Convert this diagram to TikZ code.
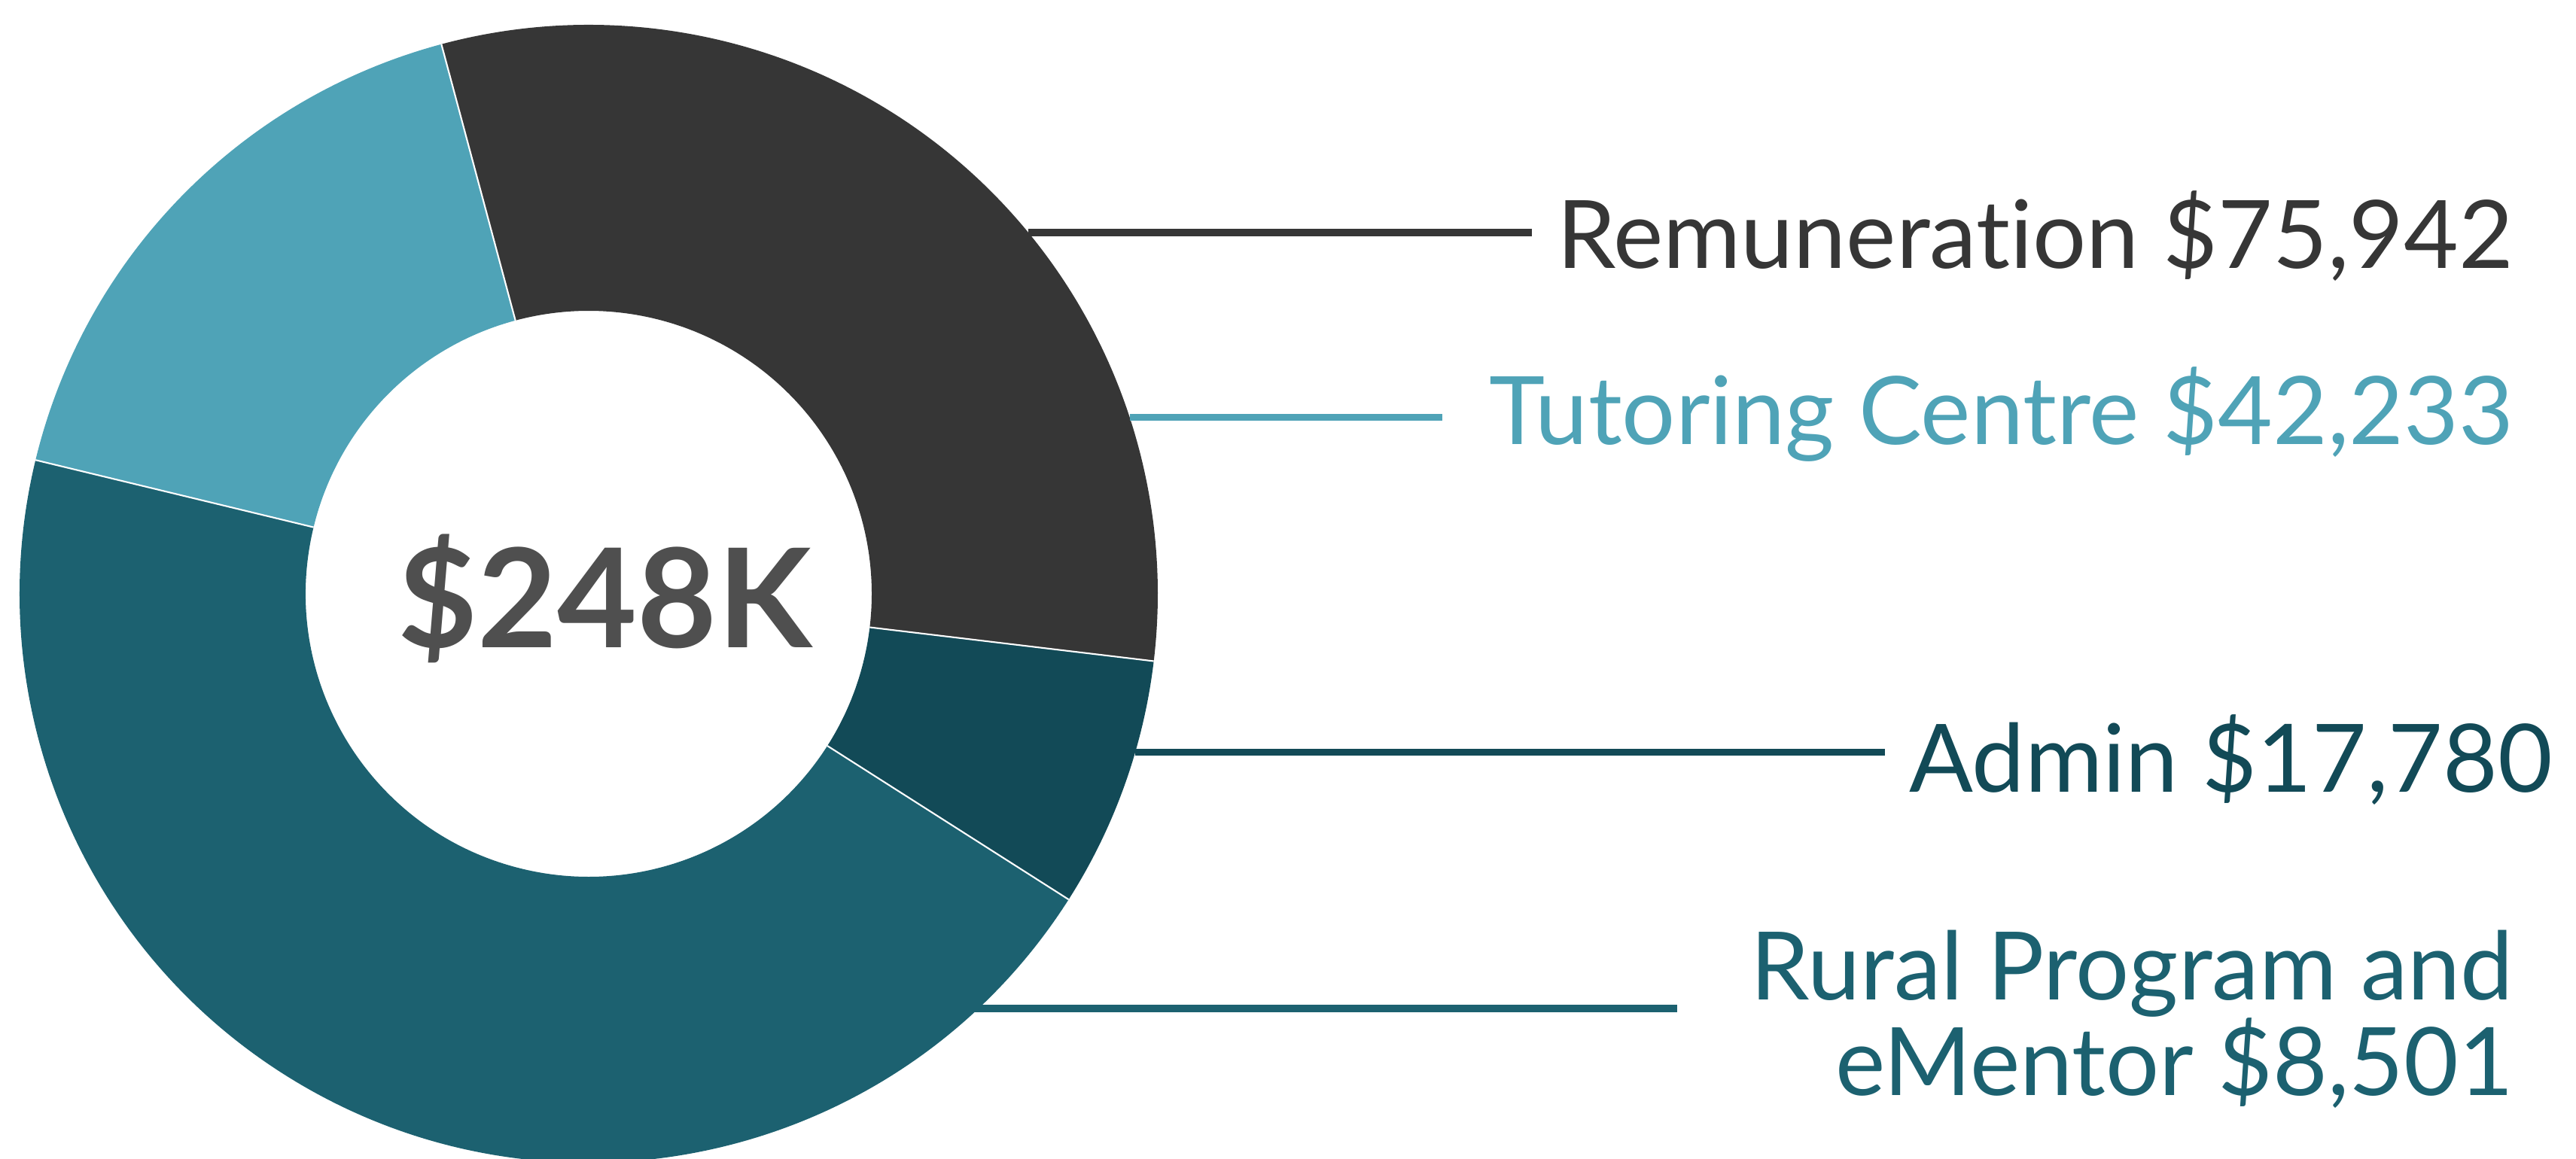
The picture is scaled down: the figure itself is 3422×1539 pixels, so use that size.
\documentclass[tikz,border=0pt]{standalone}
\usepackage{fontspec}
\setmainfont{Lato}[Ligatures={NoCommon}]
\definecolor{remc}{HTML}{363636}
\definecolor{tutc}{HTML}{4FA3B7}
\definecolor{admc}{HTML}{124A57}
\definecolor{rurc}{HTML}{1C6170}
\definecolor{ctrc}{HTML}{4F4F4F}
\begin{document}
\begin{tikzpicture}[x=0.01cm,y=0.01cm,
  lbl/.style={inner sep=0pt, outer sep=0pt, anchor=base east, font=\fontsize{35.7pt}{35.7pt}\selectfont},
  leader/.style={line width=2.6pt},
  sep/.style={white, line width=0.6pt}]
\useasboundingbox (0,0) rectangle (3422,1539);
\def\R{756}
\def\r{376}
\coordinate (c) at (782,750);
% segments
\fill[remc] ([shift={(105:\R)}]c) arc[start angle=105, end angle=-6.8, radius=\R]
  -- ([shift={(-6.8:\r)}]c) arc[start angle=-6.8, end angle=105, radius=\r] -- cycle;
\fill[admc] ([shift={(-6.8:\R)}]c) arc[start angle=-6.8, end angle=-32.5, radius=\R]
  -- ([shift={(-32.5:\r)}]c) arc[start angle=-32.5, end angle=-6.8, radius=\r] -- cycle;
\fill[rurc] ([shift={(-32.5:\R)}]c) arc[start angle=-32.5, end angle=-193.6, radius=\R]
  -- ([shift={(-193.6:\r)}]c) arc[start angle=-193.6, end angle=-32.5, radius=\r] -- cycle;
\fill[tutc] ([shift={(166.4:\R)}]c) arc[start angle=166.4, end angle=105, radius=\R]
  -- ([shift={(105:\r)}]c) arc[start angle=105, end angle=166.4, radius=\r] -- cycle;
% separators
\foreach \a in {105,-6.8,-32.5,166.4}
  \draw[sep] ([shift={(\a:\r)}]c) -- ([shift={(\a:\R)}]c);
% centre text
\node[inner sep=0pt, anchor=base, text=ctrc, font=\fontsize{52pt}{52pt}\selectfont\bfseries] (total) at (803.6,678.3) {\$248K};
% leader lines
\coordinate (remA) at (1366,1230);  \coordinate (remB) at (2035,1230);
\coordinate (tutA) at (1501,984.3); \coordinate (tutB) at (1916,984.3);
\coordinate (admA) at (1508,539.5); \coordinate (admB) at (2504,539.5);
\coordinate (rurA) at (1292,199);   \coordinate (rurB) at (2228,199);
\draw[leader, remc] (remA) -- (remB);
\draw[leader, tutc] (tutA) -- (tutB);
\draw[leader, admc] (admA) -- (admB);
\draw[leader, rurc] (rurA) -- (rurB);
% labels
\node[lbl, text=remc] (rem) at (3339,1182.3) {Remuneration \$75,942};
\node[lbl, text=tutc] (tut) at (3339,948.3) {Tutoring Centre \$42,233};
\node[lbl, text=admc] (adm) at (3391,487) {Admin \$17,780};
\node[lbl, text=rurc] (rur1) at (3339,211) {Rural Program and};
\node[lbl, text=rurc] (rur2) at (3339,83.6) {eMentor \$8,501};
\end{tikzpicture}
\end{document}
